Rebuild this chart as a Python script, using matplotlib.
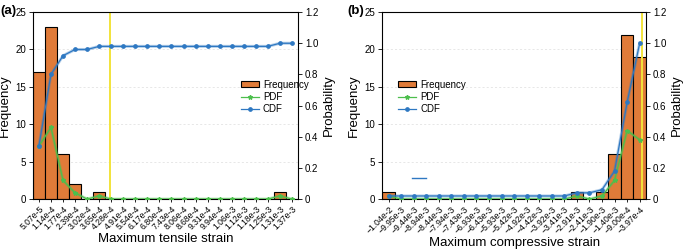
import numpy as np
import matplotlib
matplotlib.use("Agg")
import matplotlib.pyplot as plt

plt.rcParams['font.family'] = ['Liberation Sans', 'DejaVu Sans']

# ---------------- data ----------------
labels_a = ["5.07e-5", "1.14e-4", "1.77e-4", "2.39e-4", "3.02e-4", "3.65e-4",
            "4.28e-4", "4.91e-4", "5.54e-4", "6.17e-4", "6.80e-4", "7.43e-4",
            "8.06e-4", "8.68e-4", "9.31e-4", "9.94e-4", "1.06e-3", "1.12e-3",
            "1.18e-3", "1.25e-3", "1.31e-3", "1.37e-3"]
freq_a = [17, 23, 6, 2, 0, 1, 0, 0, 0, 0, 0, 0, 0, 0, 0, 0, 0, 0, 0, 0, 1, 0]
pdf_a = [0.34, 0.46, 0.12, 0.04, 0.0, 0.02, 0, 0, 0, 0, 0, 0, 0, 0, 0, 0,
         0, 0, 0, 0, 0.02, 0.0]
cdf_a = [0.34, 0.80, 0.92, 0.96, 0.96, 0.98, 0.98, 0.98, 0.98, 0.98, 0.98,
         0.98, 0.98, 0.98, 0.98, 0.98, 0.98, 0.98, 0.98, 0.98, 1.0, 1.0]
vline_a = 5.9

M = "\u2212"
labels_b = [M + s for s in ["1.04e-2", "9.95e-3", "9.44e-3", "8.94e-3", "8.44e-3",
                            "7.94e-3", "7.43e-3", "6.93e-3", "6.43e-3", "5.93e-3",
                            "5.42e-3", "4.92e-3", "4.42e-3", "3.92e-3", "3.41e-3",
                            "2.91e-3", "2.41e-3", "1.90e-3", "1.40e-3", "9.00e-4",
                            "3.97e-4"]]
freq_b = [1, 0, 0, 0, 0, 0, 0, 0, 0, 0, 0, 0, 0, 0, 0, 1, 0, 1, 6, 22, 19]
pdf_b = [0.02, 0, 0, 0, 0, 0, 0, 0, 0, 0, 0, 0, 0, 0, 0, 0.02, 0.0, 0.02,
         0.12, 0.44, 0.38]
cdf_b = [0.02, 0.02, 0.02, 0.02, 0.02, 0.02, 0.02, 0.02, 0.02, 0.02, 0.02,
         0.02, 0.02, 0.02, 0.02, 0.04, 0.04, 0.06, 0.18, 0.62, 1.0]
vline_b = 20.15

BAR = "#E07B39"
BLUE = "#2E78C2"
GREEN = "#4DBF4D"
YEL = "#F2E33A"

fig = plt.figure(figsize=(6.85, 2.52), dpi=100)


def panel(rect, labels, freq, pdf, cdf, vline, xlabel, tag, tagx, legx, stray=False):
    ax = fig.add_axes(rect)
    x = np.arange(len(labels))
    ax.set_axisbelow(True)
    ax.yaxis.grid(True, color="#dddddd", lw=0.5, ls=(0, (3, 3)))
    ax.bar(x, freq, width=1.0, color=BAR, edgecolor="black", lw=0.8,
           label="Frequency", zorder=2)
    ax.set_xlim(-0.5, len(labels) - 0.5)
    ax.set_ylim(0, 25)
    ax.set_yticks([0, 5, 10, 15, 20, 25])
    ax.set_xticks(x)
    ax.set_xticklabels(labels, rotation=45, ha="right", rotation_mode="anchor",
                       fontsize=6.2)
    ax.tick_params(axis="x", length=2.5, width=0.6, pad=1.5)
    ax.tick_params(axis="y", labelsize=7, length=3, width=0.6, pad=2)
    ax.set_ylabel("Frequency", fontsize=9.5, labelpad=3)
    ax.set_xlabel(xlabel, fontsize=9.5, labelpad=1)
    for s in ax.spines.values():
        s.set_linewidth(0.7)

    ax2 = ax.twinx()
    ax2.set_ylim(0, 1.2)
    ax2.set_yticks([0, 0.2, 0.4, 0.6, 0.8, 1.0, 1.2])
    ax2.set_yticklabels(["0", "0.2", "0.4", "0.6", "0.8", "1.0", "1.2"])
    ax2.tick_params(axis="y", labelsize=7, length=3, width=0.6, pad=2)
    ax2.set_ylabel("Probability", fontsize=9.5, labelpad=3)
    ax2.axvline(vline, color=YEL, lw=1.4, zorder=1)
    ax2.plot(x, cdf, color=BLUE, lw=2.2, alpha=0.35, zorder=2)
    ax2.plot(x, pdf, color=GREEN, lw=2.2, alpha=0.35, zorder=2)
    lp, = ax2.plot(x, pdf, color=GREEN, lw=0.9, marker="*", ms=3.2, label="PDF",
                   zorder=3)
    lc, = ax2.plot(x, cdf, color=BLUE, lw=0.9, marker="o", ms=2.4, label="CDF",
                   zorder=3)
    hb, lb = ax.get_legend_handles_labels()
    ax2.legend(hb + [lp, lc], lb + ["PDF", "CDF"], loc="upper left",
               bbox_to_anchor=(legx, 0.665), frameon=False, fontsize=7,
               handlelength=1.9, handleheight=0.6, labelspacing=0.25,
               borderpad=0, handletextpad=0.4)
    if stray:
        ax2.plot([0.114, 0.167], [0.112, 0.112], color=BLUE, lw=1.0,
                 transform=ax2.transAxes)
    fig.text(tagx, 0.955, tag, fontsize=9.5, fontweight="bold", va="center")
    return ax


panel([0.048, 0.21, 0.387, 0.742], labels_a, freq_a, pdf_a, cdf_a, vline_a,
      "Maximum tensile strain", "(a)", 0.0, 0.765)
panel([0.558, 0.21, 0.385, 0.742], labels_b, freq_b, pdf_b, cdf_b, vline_b,
      "Maximum compressive strain", "(b)", 0.507, 0.04, stray=True)

fig.savefig("out.png", dpi=100)
